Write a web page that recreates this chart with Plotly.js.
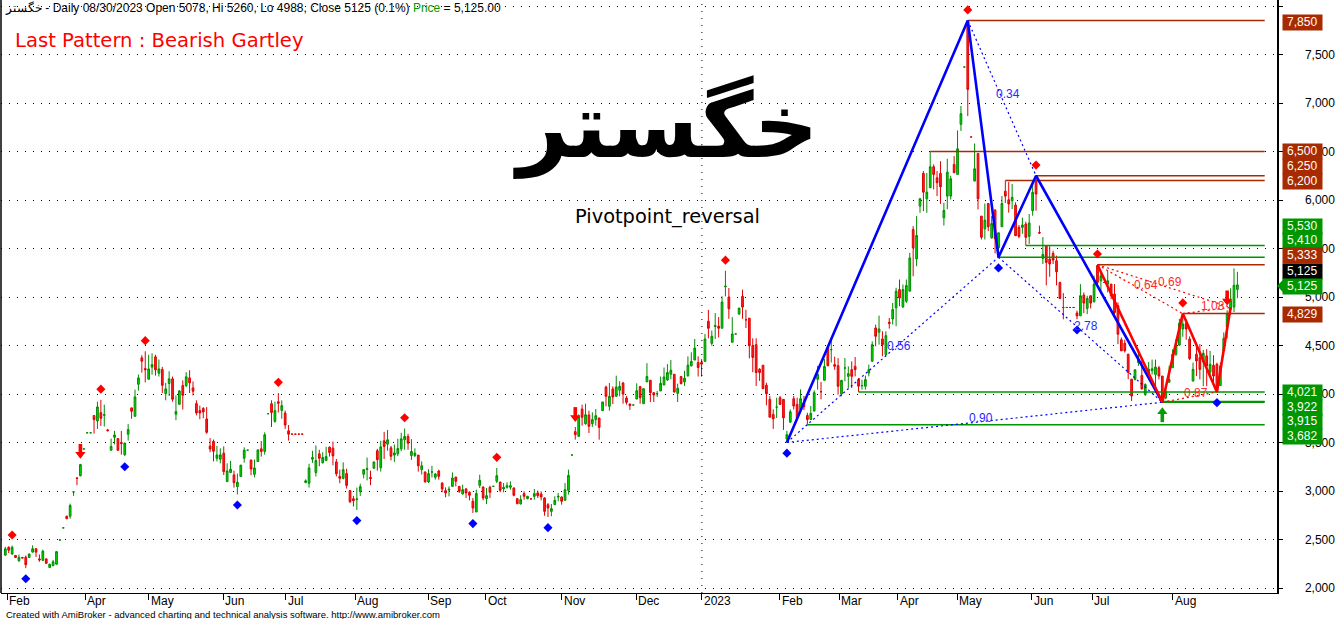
<!DOCTYPE html>
<html><head><meta charset="utf-8">
<script src="https://cdn.plot.ly/plotly-3.0.1.min.js"></script>
<style>html,body{margin:0;padding:0;background:#fff;}#chart{width:1336px;height:619px;}</style>
</head><body><div id="chart"></div>
<script>
// ---------------- DATA ----------------
const symbolName = 'خگستر';
const lastDate = '08/30/2023';
const subtitle = 'Pivotpoint_reversal';
const patternTitle = 'Last Pattern : Bearish Gartley';

const open = [
2339,2420,2350,2335,2280,2315,2318,2315,2370,2405, 2300,2285,2300,2212,2230,2245,2495,2620,2740,2740,
2990,3135,3158,3434,3600,3600,3778,3722,3808,3780, 3630,3420,3554,3540,3500,3375,3585,3857,3770,4100,
4373,4262,4152,4276,4383,4214,4252,4004,4108,4156, 3791,3894,4087,4087,4166,4063,3901,3829,3850,3743,
3464,3512,3337,3328,3390,3097,3190,3166,3045,3150, 3338,3421,3320,3172,3304,3435,3408,3797,3900,3717,
3920,3831,3804,3620,3586,3586,3586,3586,3088,3080, 3328,3190,3383,3290,3314,3452,3442,3300,3150,3130,
3180,3004,2920,2912,2993,3172,3222,3140,3234,3415, 3240,3518,3483,3445,3370,3383,3435,3528,3562,3366,
3366,3370,3220,3196,3093,3196,3141,3206,3082,3004, 3010,3048,3144,3048,2970,3021,2987,2894,2784,3058,
3041,2921,3038,3048,3100,3093,3021,3038,3038,3031, 2921,2866,2973,2921,2918,2945,2980,2970,2928,2859,
2790,2859,2938,2938,2904,3007,3371,3612,3564,3845, 3694,3784,3694,3736,3753,3828,4072,3873,4052,3976,
4038,4113,3959,3897,3887,3948,4076,3900,4125,4142, 4014,4003,4031,4093,4145,4204,4204,4007,4180,4125,
4187,4290,4350,4325,4325,4336,4750,4522,4696,4699, 4678,5105,5000,4533,4619,4823,5007,4765,4782,4498,
4509,4256,4297,4090,3945,3789,3865,3962,3945,3536, 3710,3952,3893,3841,3910,3779,3737,3824,4152,4024,
4142,4481,4457,4303,4292,4000,4268,4182,4251,4285, 4148,4086,4080,4217,4337,4681,4636,4568,4406,4740,
4774,4888,5077,4898,4956,5060,5696,5393,5937,6274, 6012,6126,6343,6229,6274,5816,6040,6040,6367,6264,
6780,7371,7835,6650,6195,6480,5834,5703,5964,5610, 5895,5507,5724,6091,6003,5993,5948,5718,5718,5752,
5625,5890,6200,5665,5398,5529,5391,5450,5374,5150, 4892,4892,4892,4892,4835,4806,5020,4882,5013,4951,
5322,5167,5150,5133,5133,5030,4910,4559,4524,4411, 4153,4150,4325,4191,3994,4184,4240,4202,4271,4185,
3959,4122,4271,4410,4504,4670,4730,4566,4133,4410, 4375,4330,4393,4226,4296,4306,4087,4445,4688,4872,
4896,5078];
const high = [
2425,2430,2437,2340,2345,2318,2335,2355,2440,2410, 2345,2395,2305,2250,2290,2380,2495,2620,2745,2870,
2990,3140,3280,3434,3600,3600,3780,3920,3940,3890, 3640,3540,3620,3545,3620,3495,3690,3860,4045,4200,
4400,4440,4405,4420,4405,4355,4280,4115,4235,4180, 3985,4040,4140,4225,4245,4130,3935,3880,3865,3865,
3545,3530,3465,3440,3460,3285,3310,3210,3180,3270, 3450,3421,3320,3325,3430,3515,3605,3797,3935,3920,
4010,3935,3830,3680,3586,3586,3586,3586,3120,3280, 3415,3470,3425,3400,3455,3460,3510,3330,3220,3295,
3230,3010,2950,3035,3075,3225,3345,3210,3300,3435, 3518,3610,3630,3465,3480,3538,3600,3645,3590,3535,
3440,3370,3305,3200,3225,3260,3185,3220,3090,3038, 3048,3192,3144,3048,3065,3031,2997,2928,3014,3168,
3048,3031,3055,3048,3237,3093,3082,3089,3100,3038, 2928,2956,2997,2950,2918,3021,3004,2997,2935,2876,
2866,2945,2980,2945,3082,3220,3371,3660,3790,3890, 3900,3828,3811,3845,3753,3918,4086,4113,4079,4189,
4131,4125,3980,3900,3887,4110,4083,4055,4318,4142, 4014,4031,4180,4273,4308,4350,4204,4107,4180,4239,
4388,4430,4567,4388,4360,4619,4868,4654,4834,4793, 5007,5270,5093,4792,4619,4886,5076,4868,4782,4574,
4574,4266,4297,4117,3980,3841,3962,3980,3945,3620, 3841,3980,3962,4048,3980,3806,3876,4038,4290,4124,
4360,4498,4568,4385,4370,4141,4371,4285,4337,4381, 4165,4148,4189,4303,4543,4715,4808,4647,4647,4784,
4939,5095,5180,5129,5180,5455,5730,5834,6022,6298, 6278,6500,6367,6298,6400,5972,6425,6250,6453,6717,
6969,7371,7850,6650,6582,6480,5834,5964,5964,5834, 5907,5662,6040,6200,6185,6165,5976,5742,5818,5776,
5855,6200,6250,5735,5618,5536,5529,5477,5426,5157, 5040,4892,4892,4892,4860,5133,5047,5013,5013,5219,
5333,5253,5150,5270,5133,5133,4944,4583,4559,4411, 4153,4250,4460,4340,4110,4330,4355,4355,4290,4185,
4080,4290,4460,4566,4775,4829,4747,4594,4323,4528, 4514,4455,4462,4445,4400,4323,4323,4635,4862,5090,
5295,5260];
const low = [
2330,2360,2345,2310,2270,2305,2205,2310,2365,2320, 2270,2280,2250,2205,2225,2240,2495,2620,2710,2715,
2950,3060,3150,3434,3600,3600,3592,3640,3670,3665, 3615,3420,3480,3415,3375,3360,3520,3745,3770,4035,
4220,4120,4152,4200,4190,4180,4010,3935,3980,3920, 3730,3890,3840,4070,4010,3985,3780,3740,3750,3590,
3400,3305,3305,3285,3165,3097,3190,3035,2965,3145, 3293,3421,3162,3140,3300,3355,3375,3797,3660,3705,
3810,3745,3640,3520,3586,3586,3586,3586,3080,3035, 3290,3150,3255,3285,3310,3355,3265,3150,3080,3120,
3025,2875,2840,2805,2950,3130,3110,3060,3234,3210, 3200,3330,3415,3315,3300,3360,3410,3425,3425,3320,
3350,3200,3170,3090,3083,3140,3117,3117,2987,2935, 2945,3041,3048,2980,2963,2928,2904,2774,2784,3031,
2904,2866,2928,3048,3082,2987,2987,3024,3014,2945, 2863,2863,2911,2915,2918,2911,2928,2904,2745,2732,
2739,2859,2894,2859,2904,2963,3371,3530,3560,3674, 3684,3598,3660,3674,3529,3828,3873,3828,3897,3976,
3976,3900,3890,3835,3887,3948,3900,3900,4125,3917, 3917,3969,4031,4093,4135,4152,4014,3917,4100,4083,
4180,4284,4350,4180,4180,4336,4574,4498,4567,4583, 4678,5007,4775,4533,4619,4823,4775,4680,4367,4225,
4083,4135,4055,3883,3761,3640,3752,3893,3630,3500, 3703,3841,3737,3841,3834,3682,3737,3824,4045,3945,
4135,4290,4325,4250,3993,3976,4131,4062,4062,4182, 4021,4045,4045,4182,4337,4492,4509,4389,4389,4674,
4716,4699,4905,4888,4939,5060,5214,5317,5868,5885, 5868,6126,6109,6040,5960,5737,5905,6005,6281,6264,
6712,7371,6865,6650,6195,5902,5593,5593,5680,5600, 5450,5410,5724,5970,5870,5907,5632,5605,5652,5530,
5546,5838,5890,5650,5340,5120,5209,5340,5120,4978, 4770,4892,4892,4892,4770,4806,4834,4823,4882,4944,
5133,5047,5150,5047,4978,4823,4514,4445,4428,4153, 3928,4140,4290,4045,3980,4157,4200,4045,4150,3915,
3945,4115,4271,4393,4497,4590,4560,4350,4133,4185, 4150,4080,4080,4185,4115,4021,4087,4445,4573,4817,
4844,4988];
const close = [
2404,2390,2420,2315,2315,2310,2240,2350,2405,2370, 2290,2380,2255,2245,2270,2375,2495,2620,2715,2850,
2990,3130,3272,3434,3600,3600,3736,3867,3750,3787, 3622,3460,3578,3420,3490,3495,3633,3822,3970,4166,
4338,4250,4259,4304,4249,4259,4090,4053,4156,3946, 3819,4032,3987,4177,4115,4029,3805,3805,3815,3605,
3433,3410,3371,3373,3200,3207,3225,3086,3090,3266, 3421,3421,3227,3238,3424,3408,3580,3797,3810,3828,
3905,3880,3680,3586,3586,3586,3586,3586,3105,3238, 3345,3314,3338,3345,3355,3397,3362,3178,3130,3220,
3058,2890,2900,2918,3045,3220,3230,3130,3300,3323, 3455,3460,3528,3358,3393,3438,3538,3562,3493,3407,
3390,3260,3260,3093,3179,3196,3175,3151,3021,2980, 3018,3134,3100,2997,3014,2980,2956,2825,2973,3110,
2928,2952,2987,3048,3158,3007,3038,3055,3055,2956, 2870,2911,2945,2945,2918,2973,2952,2938,2790,2825,
2818,2904,2945,2894,3014,3161,3371,3581,3770,3760, 3787,3667,3736,3777,3656,3918,3976,3976,3969,4072,
4079,4000,3914,3880,3887,4034,3962,4055,4180,4014, 3990,4003,4110,4176,4221,4245,4021,4059,4107,4163,
4298,4336,4474,4273,4308,4567,4678,4595,4706,4678, 4948,5111,4879,4619,4619,4886,4896,4765,4498,4377,
4221,4221,4055,4003,3761,3744,3865,3893,3754,3581, 3817,3876,3754,3952,3869,3737,3800,4014,4204,4024,
4284,4290,4457,4286,4080,4141,4268,4210,4182,4251, 4080,4086,4148,4251,4509,4595,4671,4509,4602,4726,
4870,5060,4990,5077,5118,5403,5507,5634,6012,6081, 6081,6343,6264,6178,6136,5892,6287,6219,6281,6528,
6890,7371,7140,6650,6322,6012,5617,5792,5724,5758, 5600,5662,5964,6040,5959,6028,5632,5625,5742,5615,
5763,6079,6062,5659,5439,5357,5340,5381,5260,4985, 4892,4892,4892,4892,4805,5013,4937,4985,4937,5133,
5150,5219,5150,5167,5013,4840,4617,4445,4445,4222, 3980,4250,4359,4053,4098,4254,4260,4278,4185,3959,
4028,4150,4410,4504,4730,4722,4670,4365,4254,4341, 4254,4420,4289,4306,4185,4080,4289,4573,4827,4965,
5121,5125];

// month boundaries, in bar-index units
const monthTickIdx = [0.5,23.4,42.1,63.8,82.2,102.5,123.9,140.8,163.1,184.8,204.1,226.9,244.3,261.5,278.9,300.8,318.4,342.1];
const monthLabels  = ['Feb','Apr','May','Jun','Jul','Aug','Sep','Oct','Nov','Dec','2023','Feb','Mar','Apr','May','Jun','Jul','Aug'];
const yearSepIdx = 204.1;

// pivots & signals (bar indices)
const pivotHighIdx = [2,28,41,80,117,144,211,282,302,320,345];
const pivotLowIdx  = [6,35,68,103,137,159,229,291,314,355];
const sellArrowIdx = [22,167,358];
const buyArrowIdx  = [339];

// harmonic patterns (X,A,B,C,D)
const bluePatIdx   = [229,282,291,302,339];
const bluePatPrice = [3500,7850,5410,6250,3915];
const blueRatioPairs = [[0,2],[1,3],[2,4],[0,4]];
const blueRatioText  = ['0.56','0.34','2.78','0.90'];
const redPatIdx   = [320,339,345,355,359];
const redPatPrice = [5333,3915,4829,4021,4893];
const redRatioPairs = [[0,2],[1,3],[0,4],[2,4]];
const redRatioText  = ['0.64','0.87','0.69','1.08'];

// horizontal levels
const levelPrice    = [7850,6500,6250,6200,5530,5410,5333,4829,4021,3922,3915,3682];
const levelStartIdx = [282,271,302,293,299,291,320,345,250,339,339,235];
const levelKind     = ['bear','bear','bear','bear','bull','bull','bear','bear','bull','bull','bull','bull'];
const levelEndIdx = 369;

// ---------------- LAYOUT CONSTANTS ----------------
const W=1336, H=619, PL=1, PR=1277, PT=0, PB=593;
const YMIN=1948.5, YMAX=8061.9;
const PXPRICE = (YMAX-YMIN)/(PB-PT);   // price units per pixel
const BROWN='rgb(168,42,0)', GREEN='rgb(0,150,0)';
const levelLabelYpx = [22,151.5,166.3,181.2,226.3,240.8,255.5,314.5,392.4,407.1,421.9,436.6];
const closeLabelYpx = 271, priceLabelYpx = 286;
const pX = px => (px-PL)/(PR-PL);
const pY = py => (PB-py)/(PB-PT);
const FONT='Liberation Sans, Arial, sans-serif';

const idx = close.map((_,i)=>i);
const n = close.length;
const fmt = v => v.toLocaleString('en-US');

const traces = [];
traces.push({
  type:'candlestick', x:idx, open:open, high:high, low:low, close:close,
  increasing:{line:{color:'#008c00',width:1}, fillcolor:'#00dc00'},
  decreasing:{line:{color:'#e00000',width:1}, fillcolor:'#ff2020'},
  whiskerwidth:0, hoverinfo:'none', showlegend:false
});
levelPrice.forEach((p,k)=>{
  traces.push({type:'scatter',mode:'lines',x:[levelStartIdx[k],levelEndIdx],y:[p,p],
    line:{color: levelKind[k]==='bear'?BROWN:GREEN, width:1.5}, hoverinfo:'none', showlegend:false});
});
function ratioLines(pIdx,pPrice,pairs,color){
  pairs.forEach(([a,b])=>{
    traces.push({type:'scatter',mode:'lines',x:[pIdx[a],pIdx[b]],y:[pPrice[a],pPrice[b]],
      line:{color:color,width:1.2,dash:'2px,3px'},hoverinfo:'none',showlegend:false});
  });
}
ratioLines(bluePatIdx,bluePatPrice,blueRatioPairs,'#0000ff');
ratioLines(redPatIdx,redPatPrice,redRatioPairs,'#ff0000');
traces.push({type:'scatter',mode:'lines',x:bluePatIdx,y:bluePatPrice,line:{color:'#0000ff',width:2.6},hoverinfo:'none',showlegend:false});
traces.push({type:'scatter',mode:'lines',x:redPatIdx,y:redPatPrice,line:{color:'#ff0000',width:2.6},hoverinfo:'none',showlegend:false});
const markOff = 110;
traces.push({type:'scatter',mode:'markers',x:pivotHighIdx,y:pivotHighIdx.map(i=>high[i]+markOff),
  marker:{symbol:'diamond',size:7,color:'#ff0000'},hoverinfo:'none',showlegend:false});
traces.push({type:'scatter',mode:'markers',x:pivotLowIdx,y:pivotLowIdx.map(i=>low[i]-markOff),
  marker:{symbol:'diamond',size:7,color:'#0000ff'},hoverinfo:'none',showlegend:false});
// signal arrows: head (triangle) + stem (line-ns)
function arrowTraces(ids, base, dir, color){
  // dir = +1 above (sell, pointing down), -1 below (buy, pointing up)
  traces.push({type:'scatter',mode:'markers',x:ids,y:ids.map(i=>base[i]+dir*9.5*PXPRICE),
    marker:{symbol: dir>0?'triangle-down':'triangle-up',size:9,color:color,line:{width:0}},hoverinfo:'none',showlegend:false});
  traces.push({type:'scatter',mode:'markers',x:ids,y:ids.map(i=>base[i]+dir*15*PXPRICE),
    marker:{symbol:'line-ns',size:7,line:{color:color,width:3.6}},hoverinfo:'none',showlegend:false});
}
arrowTraces(sellArrowIdx, high, 1, '#ff0000');
arrowTraces(buyArrowIdx, low, -1, '#0a9a0a');

const ann = [];
const last = n-1;
const pct = ((close[last]-close[last-1])/close[last-1]*100).toFixed(1);
ann.push({xref:'paper',yref:'paper',x:pX(3),y:1,xanchor:'left',yanchor:'top',showarrow:false,yshift:1,
  text:`${symbolName} - Daily ${lastDate} Open ${open[last]}, Hi ${high[last]}, Lo ${low[last]}, Close ${close[last]} (${pct}%) <span style="color:#009a00">Price</span> = ${close[last].toLocaleString('en-US',{minimumFractionDigits:2})}`,
  font:{family:FONT,size:12,color:'#000'}});
ann.push({xref:'paper',yref:'paper',x:pX(13),y:pY(40),xanchor:'left',yanchor:'middle',showarrow:false,
  text:patternTitle,font:{family:'DejaVu Sans, sans-serif',size:19.6,color:'#ff0000'}});
ann.push({xref:'paper',yref:'paper',x:pX(666),y:pY(126),xanchor:'center',yanchor:'middle',showarrow:false,
  text:'<b>'+symbolName+'</b>',font:{family:'DejaVu Sans, sans-serif',size:90,color:'#000'}});
ann.push({xref:'paper',yref:'paper',x:pX(667),y:pY(216),xanchor:'center',yanchor:'middle',showarrow:false,
  text:subtitle,font:{family:'DejaVu Sans, sans-serif',size:19.4,color:'#000'}});
ann.push({xref:'paper',yref:'paper',x:pX(4),y:0,xanchor:'left',yanchor:'top',yshift:-14,showarrow:false,
  text:'Created with AmiBroker - advanced charting and technical analysis software. http://www.amibroker.com',
  font:{family:FONT,size:9.5,color:'#000'}});
monthTickIdx.forEach((t,k)=>{
  ann.push({xref:'x',yref:'paper',x:t,y:0,xanchor:'left',yanchor:'top',yshift:1,xshift:0,showarrow:false,
    text:monthLabels[k],font:{family:FONT,size:12,color:'#000'}});
});
function ratioLabels(pIdx,pPrice,pairs,texts,color){
  pairs.forEach(([a,b],k)=>{
    ann.push({xref:'x',yref:'y',x:(pIdx[a]+pIdx[b])/2,y:(pPrice[a]+pPrice[b])/2,xshift:6,yshift:4,
      showarrow:false,text:texts[k],font:{family:FONT,size:12,color:color}});
  });
}
ratioLabels(bluePatIdx,bluePatPrice,blueRatioPairs,blueRatioText,'#2a2aff');
ratioLabels(redPatIdx,redPatPrice,redRatioPairs,redRatioText,'#ff2a2a');
function boxLabel(text,ypx,bg){
  ann.push({xref:'paper',yref:'paper',x:1,y:pY(ypx),xanchor:'center',yanchor:'middle',xshift:25.5,
    showarrow:false,text:text,bgcolor:bg,width:37,height:13,borderpad:0.8,
    font:{family:FONT,size:12,color:'#fff'}});
}
levelPrice.forEach((p,k)=>boxLabel(fmt(p),levelLabelYpx[k],levelKind[k]==='bear'?BROWN:GREEN));
boxLabel(fmt(close[last]),closeLabelYpx,'#000');
boxLabel(fmt(close[last]),priceLabelYpx,GREEN);

const shapes = [
  {type:'line',xref:'x',yref:'paper',x0:yearSepIdx,x1:yearSepIdx,y0:0,y1:1,line:{color:'#000',width:1,dash:'1px,6px'}},
  {type:'line',xref:'paper',yref:'paper',x0:0,x1:0,y0:0,y1:1,line:{color:'#000',width:1.5}},
  {type:'path',xref:'paper',yref:'paper',xsizemode:'pixel',ysizemode:'pixel',xanchor:1,yanchor:pY(priceLabelYpx),
    path:'M0,0 L7,7.2 L7,-7.2 Z',fillcolor:GREEN,line:{width:0}}
];

const yTicks=[]; for(let v=2000; v<=8000; v+=500) yTicks.push(v);
const layout = {
  width:W,height:H,margin:{l:PL,r:W-PR,t:PT,b:H-PB,pad:0},
  paper_bgcolor:'#fff',plot_bgcolor:'#fff',showlegend:false,boxgap:0.28,
  xaxis:{range:[-1.26,372.6],rangeslider:{visible:false},tickmode:'array',tickvals:monthTickIdx,
    showticklabels:false,ticks:'outside',ticklen:6,tickcolor:'#000',tickwidth:1,
    showline:true,linecolor:'#000',linewidth:1,showgrid:false,zeroline:false,fixedrange:true},
  yaxis:{range:[YMIN,YMAX],side:'right',tickmode:'array',tickvals:yTicks,ticktext:yTicks.map(fmt),
    ticks:'outside',ticklen:4,tickcolor:'#000',showline:true,linecolor:'#000',linewidth:1.5,
    ticklabelstandoff:20,tickfont:{family:FONT,size:12,color:'#000'},
    showgrid:true,gridcolor:'#000',gridwidth:1,griddash:'1px,7px',zeroline:false,fixedrange:true},
  annotations:ann,shapes:shapes
};
Plotly.newPlot('chart',traces,layout,{staticPlot:true,displayModeBar:false});
</script></body></html>
